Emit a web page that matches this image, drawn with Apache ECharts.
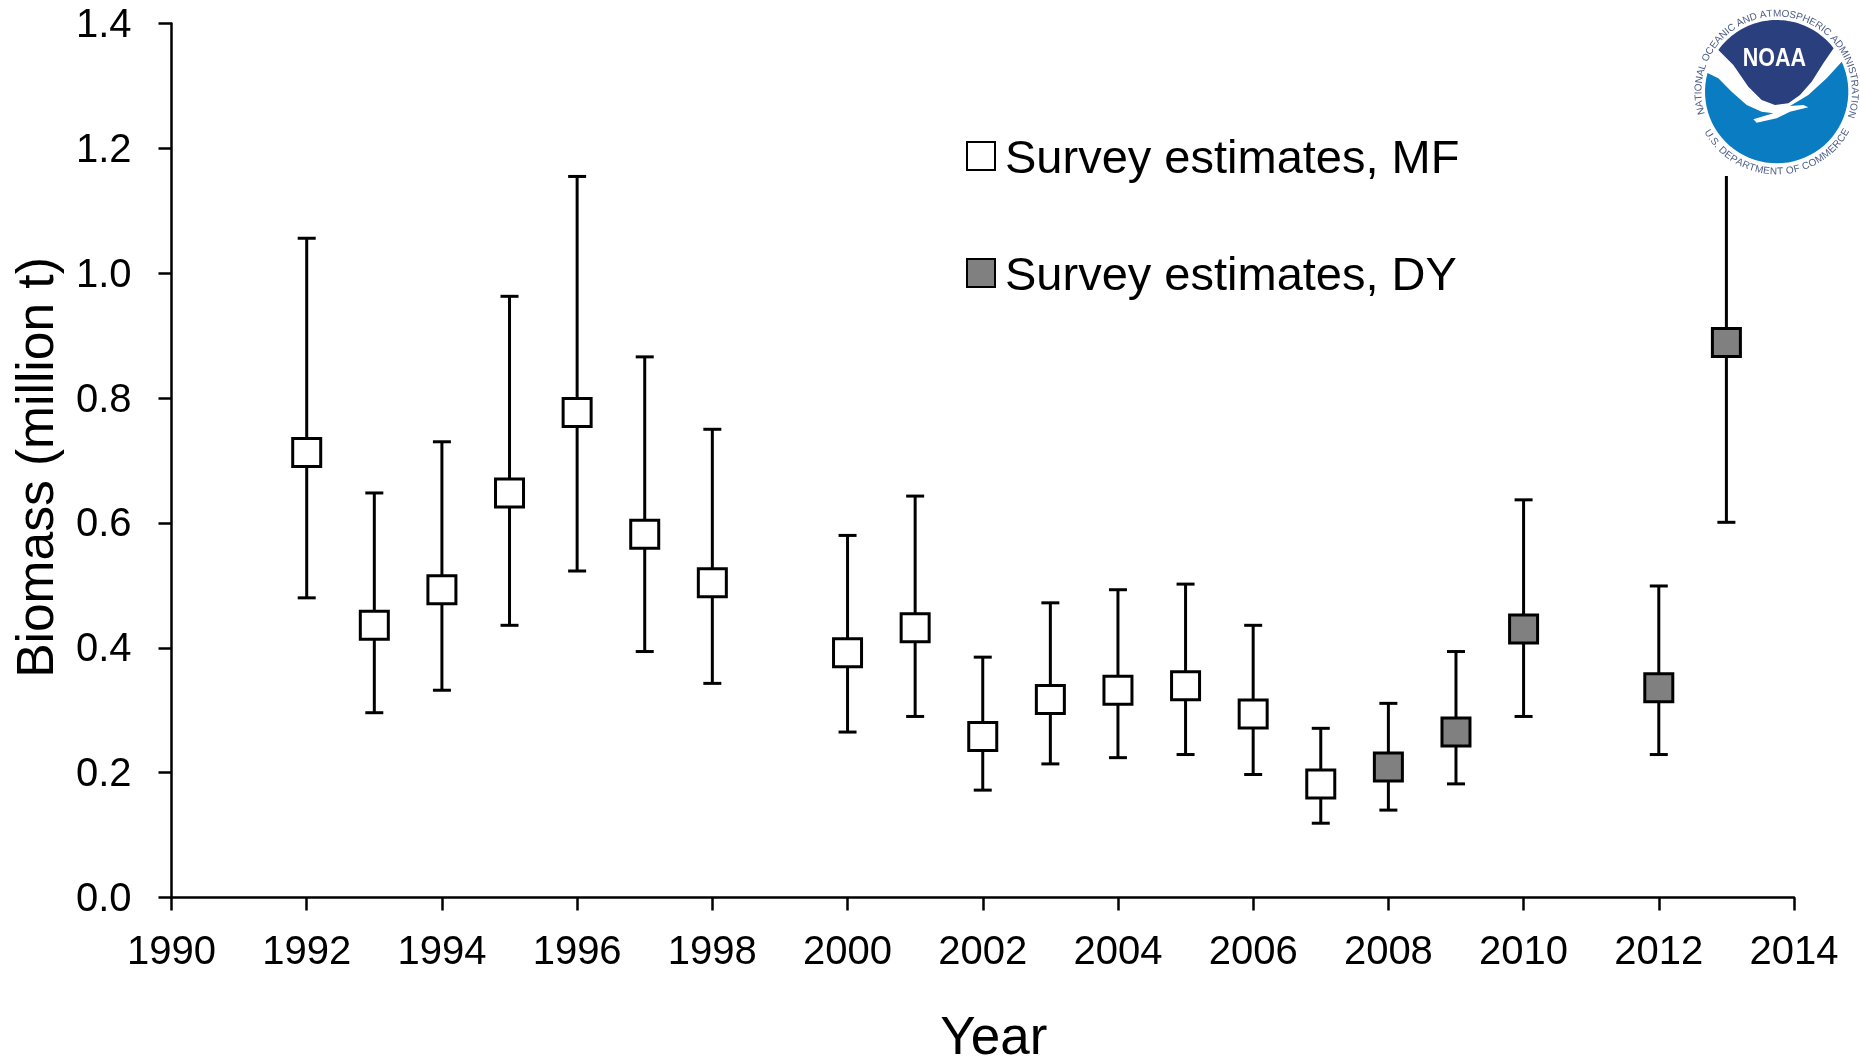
<!DOCTYPE html>
<html><head><meta charset="utf-8">
<style>html,body{margin:0;padding:0;background:#fff}#c{width:1860px;height:1058px}</style>
<script src="https://cdn.jsdelivr.net/npm/echarts@6/dist/echarts.min.js"></script>
</head><body><div id="c"></div>
<script>
const yearsMF = [1992,1993,1994,1995,1996,1997,1998,2000,2001,2002,2003,2004,2005,2006,2007];
const estMF   = [0.713,0.436,0.493,0.648,0.777,0.582,0.504,0.392,0.432,0.258,0.317,0.332,0.339,0.294,0.182];
const upperMF = [1.056,0.648,0.730,0.963,1.155,0.866,0.750,0.580,0.643,0.385,0.472,0.493,0.502,0.436,0.271];
const lowerMF = [0.480,0.296,0.332,0.436,0.523,0.394,0.343,0.265,0.290,0.172,0.214,0.224,0.229,0.197,0.119];
const yearsDY = [2008,2009,2010,2012,2013];
const estDY   = [0.209,0.265,0.430,0.336,0.889];
const upperDY = [0.311,0.394,0.637,0.499,1.180];
const lowerDY = [0.140,0.182,0.290,0.229,0.601];
const nameMF = 'Survey estimates, MF';
const nameDY = 'Survey estimates, DY';
const xTitle = 'Year';
const yTitle = 'Biomass (million t)';
const logoTop = 'NATIONAL OCEANIC AND ATMOSPHERIC ADMINISTRATION';
const logoBottom = 'U.S. DEPARTMENT OF COMMERCE';
const logoName = 'NOAA';

const FONT = '"Liberation Sans", Arial, sans-serif';
const zip = (ys, e) => ys.map((y, i) => [y, e[i]]);
const bars = [
  ...yearsMF.map((y, i) => [y, lowerMF[i], upperMF[i]]),
  ...yearsDY.map((y, i) => [y, lowerDY[i], upperDY[i]])
];

/* NOAA logo, decoration drawn in zoomed-crop coordinates */
const LZ = 140;
const lx = z => 1690 + z / 3, ly = z => z / 3;
const cx = 260, cy = 275, R = 215;
function arc(a0, a1) {           // degrees clockwise from top
  const p = [], n = 48;
  for (let i = 0; i <= n; i++) {
    const a = (a0 + (a1 - a0) * i / n) * Math.PI / 180;
    p.push([cx + R * Math.sin(a), cy - R * Math.cos(a)]);
  }
  return p;
}
const ang = (x, y) => Math.atan2(x - cx, cy - y) * 180 / Math.PI;
const toReal = pts => pts.map(p => [lx(p[0]), ly(p[1])]);
const navy = [...arc(ang(85, 150), ang(430, 145)),
  [400,190],[365,245],[330,285],[295,310],[255,315],[215,300],[175,260],[130,195]];
let a0 = ang(455, 185), a1 = ang(50, 218); if (a1 < a0) a1 += 360;
const blue = [...arc(a0, a1),
  [85,235],[125,275],[170,315],[215,335],[250,340],[190,358],[200,368],[260,355],[300,335],
  [355,322],[340,315],[300,318],[355,285],[410,235]];
const logo = [
  {type:'rect', z:LZ, shape:{x:1695,y:0,width:165,height:176}, style:{fill:'#fff'}},
  {type:'polygon', z:LZ+1, shape:{points:toReal(navy)}, style:{fill:'#2a3f7e'}},
  {type:'polygon', z:LZ+1, shape:{points:toReal(blue)}, style:{fill:'#0a7cc2'}},
  {type:'text', z:LZ+2, x:lx(253), y:ly(171)+2, scaleX:0.86, originX:0, originY:0,
   style:{text:logoName, fill:'#fff', font:'bold 25px '+FONT, align:'center', verticalAlign:'middle'}}
];
const mctx = document.createElement('canvas').getContext('2d');
function ring(text, fromDeg, toDeg, radius, size, bottom) {
  const font = size + 'px ' + FONT; mctx.font = font;
  const total = mctx.measureText(text).width;
  let used = 0;
  for (const ch of text) {
    const w = mctx.measureText(ch).width;
    const t = (used + w / 2) / total; used += w;
    const deg = fromDeg + (toDeg - fromDeg) * t;
    const a = deg * Math.PI / 180;
    logo.push({type:'text', z:LZ+2,
      x: lx(cx) + radius * Math.sin(a), y: ly(cy) - radius * Math.cos(a),
      rotation: bottom ? -(a - Math.PI) : -a,
      style:{text:ch, fill:'#4c5c86', font, align:'center', verticalAlign:'middle'}});
  }
}
ring(logoTop, -107, 108, 78, 10, false);
ring(logoBottom, 241, 119, 80, 10, true);

const option = {
  backgroundColor: '#fff',
  animation: false,
  textStyle: {fontFamily: FONT},
  grid: {left: 171.5, right: 66, top: 23.5, bottom: 160.5, containLabel: false, outerBoundsMode: 'none'},
  legend: {
    orient: 'vertical', left: 961, top: 127, itemWidth: 28, itemHeight: 36, itemGap: 61,
    icon: 'path://M0 0L0 0M0 0H28V28H0ZM0 36L0 36', data: [nameMF, nameDY],
    textStyle: {fontFamily: FONT, fontSize: 47, color: '#000', lineHeight: 56, padding: [0,0,0,5]}
  },
  xAxis: {
    type: 'value', min: 1990, max: 2014, interval: 2,
    name: xTitle, nameLocation: 'middle', nameGap: 115,
    nameTextStyle: {fontSize: 53, color: '#000', padding: [0,0,0,22]},
    axisLine: {onZero: false, lineStyle: {color: '#000', width: 2.5}},
    axisTick: {length: 13, lineStyle: {color: '#000', width: 2.5}},
    axisLabel: {color: '#000', fontSize: 40, margin: 35.5, formatter: v => String(v)},
    splitLine: {show: false}
  },
  yAxis: {
    type: 'value', min: 0, max: 1.4, interval: 0.2,
    name: yTitle, nameLocation: 'middle', nameGap: 104,
    nameTextStyle: {fontSize: 51.5, color: '#000', padding: [0,14,0,0]},
    axisLine: {lineStyle: {color: '#000', width: 2.5}},
    axisTick: {length: 13, lineStyle: {color: '#000', width: 2.5}},
    axisLabel: {color: '#000', fontSize: 40, margin: 40, verticalAlign: 'top', lineHeight: 5, formatter: v => v.toFixed(1)},
    splitLine: {show: false}
  },
  series: [
    {
      type: 'custom', name: 'error bars', z: 2, silent: true,
      data: bars, encode: {x: 0, y: [1, 2]}, clip: false,
      renderItem(params, api) {
        const x = api.value(0);
        const lo = api.coord([x, api.value(1)]);
        const hi = api.coord([x, api.value(2)]);
        const cap = 9;
        const st = {stroke: '#000', lineWidth: 3, fill: null};
        return {type: 'group', children: [
          {type:'line', shape:{x1:lo[0],y1:lo[1],x2:hi[0],y2:hi[1]}, style:st},
          {type:'line', shape:{x1:lo[0]-cap,y1:lo[1],x2:lo[0]+cap,y2:lo[1]}, style:st},
          {type:'line', shape:{x1:hi[0]-cap,y1:hi[1],x2:hi[0]+cap,y2:hi[1]}, style:st}
        ]};
      }
    },
    {
      type: 'scatter', name: nameMF, z: 5, symbol: 'rect', symbolSize: 28,
      data: zip(yearsMF, estMF),
      itemStyle: {color: '#fff', borderColor: '#000', borderWidth: 3, opacity: 1}
    },
    {
      type: 'scatter', name: nameDY, z: 5, symbol: 'rect', symbolSize: 28,
      data: zip(yearsDY, estDY),
      itemStyle: {color: '#808080', borderColor: '#000', borderWidth: 3, opacity: 1}
    }
  ],
  graphic: logo
};
const chart = echarts.init(document.getElementById('c'), null, {renderer: 'canvas'});
chart.setOption(option);
</script></body></html>
